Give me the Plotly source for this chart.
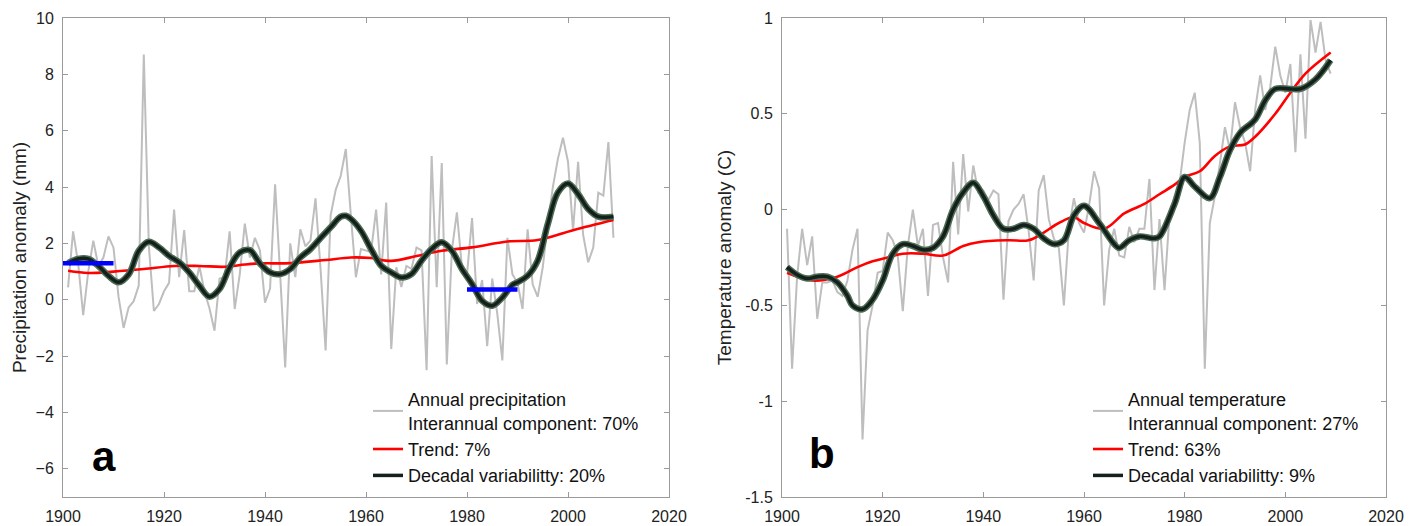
import plotly.graph_objects as go

# ---------------- data: panel a (precipitation) ----------------
years = list(range(1901, 2010))
precip_annual = [
    0.44, 2.43, 1.3, -0.55, 1.0, 2.1, 1.2, 1.5, 2.25, 1.85,
    0.1, -1.0, -0.27, -0.05, 0.5, 8.7, 1.9, -0.4, -0.15, 0.3,
    0.6, 3.2, 0.8, 2.47, 0.3, 0.3, 1.2, 0.3, -0.3, -1.1,
    0.75, 0.8, 2.43, -0.33, 0.9, 2.7, 1.5, 2.2, 1.75, -0.1,
    0.4, 4.1, 0.9, -2.4, 2.0, 0.8, 2.5, 1.9, 2.1, 3.6,
    1.1, -1.8, 3.0, 3.9, 4.4, 5.35, 3.0, 0.8, 1.8, 1.75,
    1.7, 3.2, 0.9, 3.45, -1.75, 1.15, 0.45, 1.2, 1.1, 1.85,
    1.75, -2.5, 5.1, 0.45, 4.85, -2.3, 1.75, 3.1, 1.15, 0.9,
    2.9, -0.15, 0.7, -1.65, 0.75, -0.5, -2.15, 2.2, 0.9, 0.6,
    -0.33, 2.5, 0.55, 0.1, 1.15, 2.7, 4.0, 5.0, 5.75, 4.9,
    2.45, 4.9, 2.3, 1.33, 1.85, 3.8, 3.7, 5.6, 2.2,
]
precip_trend_years = [1901, 1905, 1910, 1916, 1922, 1927, 1932, 1936, 1939, 1945,
                      1952, 1957, 1961, 1965, 1970, 1975, 1981, 1988, 1994, 2001, 2009]
precip_trend = [1.03, 0.95, 1.0, 1.09, 1.2, 1.2, 1.17, 1.25, 1.29, 1.3,
                1.41, 1.5, 1.48, 1.38, 1.55, 1.74, 1.86, 2.07, 2.12, 2.47, 2.83]
precip_dec_years = [1901, 1903, 1905, 1907, 1909, 1911, 1913, 1915, 1917, 1919,
                    1921, 1923, 1925, 1927, 1929, 1931, 1933, 1935, 1937, 1939,
                    1941, 1943, 1945, 1947, 1949, 1951, 1953, 1955, 1956, 1957,
                    1959, 1961, 1963, 1965, 1967, 1969, 1971, 1973, 1975, 1977,
                    1979, 1981, 1983, 1985, 1987, 1989, 1990, 1992, 1994, 1996,
                    1998, 2000, 2002, 2004, 2006, 2009]
precip_decadal = [1.3, 1.45, 1.45, 1.2, 0.85, 0.62, 0.9, 1.74, 2.06, 1.86,
                  1.56, 1.33, 0.97, 0.5, 0.11, 0.38, 1.15, 1.68, 1.76, 1.29,
                  0.97, 0.91, 1.09, 1.5, 1.8, 2.19, 2.57, 2.95, 2.98, 2.87,
                  2.45, 1.8, 1.21, 0.97, 0.79, 0.91, 1.39, 1.8, 2.04, 1.74,
                  1.09, 0.56, -0.04, -0.21, 0.08, 0.53, 0.62, 0.85, 1.39, 2.69,
                  3.81, 4.13, 3.75, 3.22, 2.95, 2.95]
precip_period_start = [1900, 1980]
precip_period_end = [1910, 1990]
precip_period_mean = [1.3, 0.36]

# ---------------- data: panel b (temperature) ----------------
temp_annual = [
    -0.10, -0.83, -0.35, -0.10, -0.29, -0.14, -0.57, -0.38, -0.38, -0.37,
    -0.43, -0.45, -0.37, -0.21, -0.10, -1.20, -0.63, -0.50, -0.33, -0.32,
    -0.12, -0.16, -0.24, -0.53, -0.19, 0.0, -0.19, -0.10, -0.45, -0.08,
    -0.07, -0.25, -0.38, 0.25, -0.13, 0.29, -0.01, 0.23, 0.09, 0.10,
    0.05, 0.10, 0.08, -0.47, -0.06, 0.0, 0.03, 0.08, -0.11, -0.37,
    0.10, 0.18, -0.05, -0.15, -0.20, -0.50, -0.10, 0.06, -0.07, -0.12,
    0.02, 0.20, 0.11, -0.50, -0.21, -0.10, -0.24, -0.25, -0.09, -0.17,
    -0.10, -0.10, 0.16, -0.42, -0.05, -0.42, -0.02, 0.07, 0.14, 0.35,
    0.52, 0.61, 0.35, -0.83, -0.07, 0.07, 0.24, 0.43, 0.31, 0.56,
    0.43, 0.35, 0.20, 0.52, 0.70, 0.52, 0.64, 0.85, 0.70, 0.61,
    0.76, 0.30, 0.81, 0.37, 0.99, 0.82, 0.98, 0.78, 0.71,
]
temp_trend_years = [1901, 1906, 1911, 1915, 1918, 1921, 1924, 1928, 1932, 1936,
                    1939, 1945, 1949, 1952, 1955, 1958, 1960, 1964, 1968, 1972,
                    1975, 1978, 1980, 1983, 1986, 1989, 1992, 1994, 1998, 2001,
                    2004, 2009]
temp_trend = [-0.33, -0.37, -0.35, -0.30, -0.27, -0.25, -0.23, -0.23, -0.24, -0.19,
              -0.17, -0.16, -0.16, -0.12, -0.07, -0.04, -0.07, -0.10, -0.02, 0.03,
              0.08, 0.13, 0.17, 0.20, 0.28, 0.33, 0.34, 0.38, 0.50, 0.61,
              0.71, 0.82]
temp_dec_years = [1901, 1903, 1905, 1907, 1909, 1911, 1913, 1914, 1916, 1918,
                  1920, 1922, 1924, 1926, 1928, 1930, 1932, 1934, 1936, 1938,
                  1940, 1942, 1944, 1946, 1948, 1950, 1952, 1954, 1956, 1958,
                  1960, 1963, 1966, 1967, 1969, 1971, 1974, 1975, 1978, 1980,
                  1982, 1985, 1987, 1989, 1991, 1994, 1996, 1998, 2001, 2003,
                  2006, 2009]
temp_decadal = [-0.30, -0.34, -0.36, -0.35, -0.35, -0.38, -0.45, -0.50, -0.52, -0.47,
                -0.37, -0.23, -0.18, -0.19, -0.21, -0.20, -0.14, 0.0, 0.09, 0.14,
                0.07, -0.03, -0.10, -0.10, -0.08, -0.10, -0.15, -0.18, -0.16, -0.03,
                0.02, -0.07, -0.18, -0.20, -0.16, -0.14, -0.15, -0.14, 0.03, 0.17,
                0.12, 0.06, 0.17, 0.31, 0.40, 0.47, 0.57, 0.63, 0.63, 0.63,
                0.68, 0.78]

x_ticks = [1900, 1920, 1940, 1960, 1980, 2000, 2020]
precip_ticks = [-6, -4, -2, 0, 2, 4, 6, 8, 10]
temp_ticks = [-1.5, -1, -0.5, 0, 0.5, 1]
temp_tick_text = ["-1.5", "-1", "-0.5", "0", "0.5", "1"]

GRAY = "#bebebe"
RED = "#ff0000"
HALO = "#4d6b55"
CORE = "#13211a"
BLUE = "#0000ff"
FONT = "Liberation Sans, Arial, Helvetica, sans-serif"


def period_xy(starts, ends, means):
    xs, ys = [], []
    for s, e, m in zip(starts, ends, means):
        xs += [s, e, None]
        ys += [m, m, None]
    return xs, ys


fig = go.Figure()

# ---- panel a ----
fig.add_trace(go.Scatter(x=years, y=precip_annual, mode="lines",
                         line=dict(color=GRAY, width=2),
                         name="Annual precipitation<br>Interannual component: 70%",
                         legend="legend", xaxis="x", yaxis="y"))
fig.add_trace(go.Scatter(x=precip_trend_years, y=precip_trend, mode="lines",
                         line=dict(color=RED, width=2.6, shape="spline"),
                         name="Trend: 7%", legend="legend", xaxis="x", yaxis="y"))
fig.add_trace(go.Scatter(x=precip_dec_years, y=precip_decadal, mode="lines",
                         line=dict(color=HALO, width=6.5, shape="spline"),
                         showlegend=False, hoverinfo="skip", xaxis="x", yaxis="y"))
fig.add_trace(go.Scatter(x=precip_dec_years, y=precip_decadal, mode="lines",
                         line=dict(color=CORE, width=3.5, shape="spline"),
                         name="Decadal variabilitty: 20%", legend="legend",
                         xaxis="x", yaxis="y"))
bx, by = period_xy(precip_period_start, precip_period_end, precip_period_mean)
fig.add_trace(go.Scatter(x=bx, y=by, mode="lines", line=dict(color=BLUE, width=4.5),
                         showlegend=False, xaxis="x", yaxis="y"))

# ---- panel b ----
fig.add_trace(go.Scatter(x=years, y=temp_annual, mode="lines",
                         line=dict(color=GRAY, width=2),
                         name="Annual temperature<br>Interannual component: 27%",
                         legend="legend2", xaxis="x2", yaxis="y2"))
fig.add_trace(go.Scatter(x=temp_trend_years, y=temp_trend, mode="lines",
                         line=dict(color=RED, width=2.6, shape="spline"),
                         name="Trend: 63%", legend="legend2", xaxis="x2", yaxis="y2"))
fig.add_trace(go.Scatter(x=temp_dec_years, y=temp_decadal, mode="lines",
                         line=dict(color=HALO, width=6.5, shape="spline"),
                         showlegend=False, hoverinfo="skip", xaxis="x2", yaxis="y2"))
fig.add_trace(go.Scatter(x=temp_dec_years, y=temp_decadal, mode="lines",
                         line=dict(color=CORE, width=3.5, shape="spline"),
                         name="Decadal variabilitty: 9%", legend="legend2",
                         xaxis="x2", yaxis="y2"))

W, H = 1424, 526
ydom = [1 - 497 / H, 1 - 18 / H]

axis_common = dict(showgrid=False, zeroline=False, showline=True, linecolor="#9a9a9a",
                   linewidth=1, mirror="ticks", ticks="inside", ticklen=5,
                   tickcolor="#9a9a9a", tickfont=dict(size=16, color="#222222"),
                   ticklabelstandoff=5, automargin=False)

fig.update_layout(
    width=W, height=H,
    margin=dict(l=0, r=0, t=0, b=0, autoexpand=False),
    paper_bgcolor="white", plot_bgcolor="white",
    font=dict(family=FONT, color="#222222"),
    xaxis=dict(domain=[63 / W, 669 / W], range=[1900, 2020], tickvals=x_ticks,
               anchor="y", **axis_common),
    yaxis=dict(domain=ydom, range=[-7, 10], tickvals=precip_ticks, anchor="x",
               title=dict(text="Precipitation anomaly (mm)", font=dict(size=19), standoff=3),
               **axis_common),
    xaxis2=dict(domain=[782 / W, 1386 / W], range=[1900, 2020], tickvals=x_ticks,
                anchor="y2", **axis_common),
    yaxis2=dict(domain=ydom, range=[-1.5, 1], tickvals=temp_ticks, ticktext=temp_tick_text,
                anchor="x2",
                title=dict(text="Temperature anomaly (C)", font=dict(size=19), standoff=8),
                **axis_common),
    legend=dict(x=368 / W, y=1 - 381 / H, xanchor="left", yanchor="top",
                bgcolor="rgba(0,0,0,0)", font=dict(size=18, color="#111111"),
                tracegroupgap=0, valign="middle"),
    legend2=dict(x=1088 / W, y=1 - 381 / H, xanchor="left", yanchor="top",
                 bgcolor="rgba(0,0,0,0)", font=dict(size=18, color="#111111"),
                 tracegroupgap=0, valign="middle"),
    showlegend=True,
    annotations=[
        dict(text="<b>a</b>", x=104 / W, y=1 - 456 / H, xref="paper", yref="paper",
             showarrow=False, font=dict(size=42, color="black", family=FONT),
             xanchor="center", yanchor="middle"),
        dict(text="<b>b</b>", x=822 / W, y=1 - 453 / H, xref="paper", yref="paper",
             showarrow=False, font=dict(size=42, color="black", family=FONT),
             xanchor="center", yanchor="middle"),
    ],
)

fig.write_html("out.html")
